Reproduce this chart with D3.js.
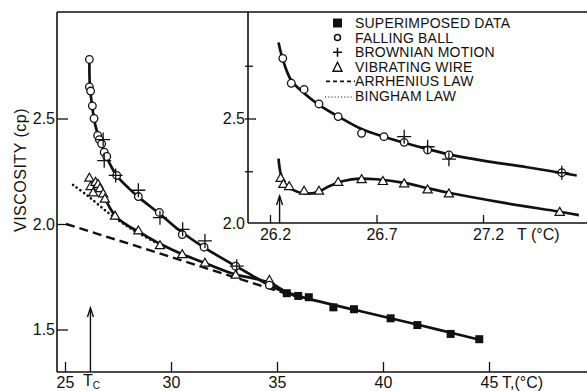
<!DOCTYPE html>
<html>
<head>
<meta charset="utf-8">
<script src="https://cdn.jsdelivr.net/npm/d3@7"></script>
<style>
  html, body { margin: 0; padding: 0; background: #fff; }
  svg { display: block; font-family: 'Liberation Sans', Arial, sans-serif; }
  text { fill: #111; }
</style>
</head>
<body>
<svg id="chart"></svg>
<script>
// main panel data, [T (degC), viscosity (cp)]
const fallingBall = [
  [26.15, 2.78], [26.15, 2.65], [26.21, 2.63], [26.29, 2.56], [26.37, 2.50],
  [26.54, 2.42], [26.62, 2.40], [26.73, 2.38], [26.85, 2.34], [26.97, 2.32],
  [27.44, 2.23], [28.46, 2.13], [29.45, 2.055], [30.53, 1.95], [31.56, 1.89],
  [33.05, 1.80], [34.64, 1.71]
];
const brownian = [
  [26.8, 2.40], [26.85, 2.30], [27.39, 2.23], [28.46, 2.16], [29.48, 2.03],
  [30.55, 1.975], [31.6, 1.92], [33.1, 1.80]
];
const vibratingWire = [
  [26.15, 2.22], [26.21, 2.18], [26.33, 2.15], [26.44, 2.20], [26.56, 2.19],
  [26.65, 2.17], [26.8, 2.145], [26.88, 2.12], [27.36, 2.04], [28.46, 1.97],
  [29.48, 1.90], [30.53, 1.857], [31.6, 1.817], [33.05, 1.76], [34.64, 1.735]
];
const superimposed = [
  [35.46, 1.672], [36.0, 1.659], [36.5, 1.653], [37.66, 1.605], [38.63, 1.596],
  [40.36, 1.553], [41.62, 1.521], [43.19, 1.479], [44.54, 1.454]
];
// fitted curves
const fallingCurve = [
  [26.15, 2.78], [26.17, 2.66], [26.24, 2.59], [26.32, 2.53], [26.45, 2.46],
  [26.65, 2.395], [26.95, 2.32], [27.4, 2.235], [28.0, 2.17], [28.5, 2.125],
  [29.5, 2.045], [30.5, 1.962], [31.5, 1.893], [32.5, 1.832], [33.5, 1.775],
  [34.6, 1.712], [35.5, 1.672], [36.5, 1.645], [38.6, 1.595], [40.4, 1.552],
  [42.5, 1.502], [44.6, 1.45]
];
const vibratingCurve = [
  [26.65, 2.175], [26.85, 2.13], [27.1, 2.08], [27.4, 2.035], [28.0, 1.99],
  [28.5, 1.962], [29.5, 1.905], [30.5, 1.858], [31.6, 1.815], [33.0, 1.762],
  [34.0, 1.74], [34.7, 1.72], [35.5, 1.675], [36.2, 1.655]
];
const arrhenius = [[25.05, 2.0], [30, 1.844], [35, 1.683], [36, 1.655]];
const bingham = [[25.38, 2.185], [26.08, 2.133], [27.12, 2.047], [28.21, 1.972], [29.34, 1.91]];

// inset data
const insetFalling = [
  [26.26, 2.785], [26.30, 2.667], [26.36, 2.638], [26.43, 2.569], [26.52, 2.509],
  [26.63, 2.43], [26.735, 2.414], [26.83, 2.387], [26.94, 2.351], [27.04, 2.327],
  [27.57, 2.243]
];
const insetBrownian = [[26.83, 2.414], [26.94, 2.366], [27.04, 2.307], [27.57, 2.243]];
const insetVibrating = [
  [26.25, 2.219], [26.263, 2.19], [26.29, 2.18], [26.36, 2.158], [26.43, 2.158],
  [26.52, 2.20], [26.63, 2.213], [26.73, 2.204], [26.83, 2.193], [26.94, 2.164],
  [27.04, 2.145], [27.56, 2.058]
];
const insetFallingCurve = [
  [26.24, 2.86], [26.26, 2.78], [26.30, 2.68], [26.36, 2.62], [26.43, 2.565],
  [26.52, 2.51], [26.63, 2.45], [26.73, 2.415], [26.83, 2.385], [26.94, 2.355],
  [27.04, 2.33], [27.2, 2.30], [27.4, 2.27], [27.64, 2.23]
];
const insetVibratingCurve = [
  [26.24, 2.31], [26.25, 2.24], [26.27, 2.19], [26.30, 2.165], [26.36, 2.145],
  [26.42, 2.15], [26.48, 2.18], [26.55, 2.205], [26.62, 2.215], [26.70, 2.212],
  [26.83, 2.195], [26.94, 2.17], [27.04, 2.148], [27.3, 2.10], [27.56, 2.058],
  [27.65, 2.042]
];

const xTicks = [25, 30, 35, 40, 45];
const yTicks = [1.5, 2.0, 2.5];
const insetXTicks = [26.2, 26.7, 27.2];
const insetYTicks = [2.25, 2.5, 2.75];
const Tc = 26.2;
const legendItems = [
  { label: 'SUPERIMPOSED DATA', mark: 'square' },
  { label: 'FALLING BALL', mark: 'circle' },
  { label: 'BROWNIAN MOTION', mark: 'plus' },
  { label: 'VIBRATING WIRE', mark: 'triangle' },
  { label: 'ARRHENIUS LAW', mark: 'dash' },
  { label: 'BINGHAM LAW', mark: 'dot' }
];

const width = 587, height = 391;
const svg = d3.select('#chart').attr('width', width).attr('height', height);
svg.append('rect').attr('width', width).attr('height', height).attr('fill', '#fff');

const plotLeft = 57, plotTop = 12, plotBottom = 372;
const insetLeft = 248, insetBottom = 223;

const x = d3.scaleLinear().domain([25, 45]).range([65, 489]);
const y = d3.scaleLinear().domain([1.5, 2.5]).range([329.5, 118.5]);
const xi = d3.scaleLinear().domain([26.2, 27.2]).range([270, 483]);

// frame lines
const frame = svg.append('g').attr('stroke', '#111').attr('stroke-width', 1.6);
frame.append('line').attr('x1', plotLeft).attr('x2', width).attr('y1', plotTop).attr('y2', plotTop);
frame.append('line').attr('x1', plotLeft).attr('x2', plotLeft).attr('y1', plotTop).attr('y2', plotBottom);
frame.append('line').attr('x1', plotLeft).attr('x2', width).attr('y1', plotBottom).attr('y2', plotBottom);
frame.append('line').attr('x1', insetLeft).attr('x2', insetLeft).attr('y1', plotTop).attr('y2', insetBottom);
frame.append('line').attr('x1', insetLeft).attr('x2', width).attr('y1', insetBottom).attr('y2', insetBottom);

function styleAxis(g) {
  g.select('.domain').remove();
  g.selectAll('line').attr('stroke', '#111').attr('stroke-width', 1.3);
  g.selectAll('text').attr('font-size', 16).attr('fill', '#111').attr('font-family', "'Liberation Sans', Arial, sans-serif");
}

// main axes
svg.append('g')
  .attr('transform', `translate(0,${plotBottom})`)
  .call(d3.axisBottom(x).tickValues(xTicks).tickSize(-10).tickPadding(5).tickFormat(d3.format('d')))
  .call(styleAxis);

svg.append('g')
  .attr('transform', `translate(${plotLeft},0)`)
  .call(d3.axisLeft(y).tickValues(yTicks).tickSize(-11).tickPadding(2).tickFormat(d3.format('.1f')))
  .call(styleAxis);

// inset axes
svg.append('g')
  .attr('transform', `translate(0,${insetBottom})`)
  .call(d3.axisBottom(xi).tickValues(insetXTicks).tickSize(-8).tickPadding(6).tickFormat(d3.format('.1f')))
  .call(styleAxis)
  .selectAll('text').attr('dx', 5);

svg.append('g')
  .attr('transform', `translate(${insetLeft},0)`)
  .call(d3.axisLeft(y).tickValues(insetYTicks).tickSize(0).tickPadding(3)
    .tickFormat(d => d === 2.5 ? '2.5' : ''))
  .call(styleAxis)
  .call(g => g.selectAll('.tick line')
    .attr('x1', -3).attr('x2', d => d === 2.5 ? 8 : 5));

svg.append('text').attr('x', insetLeft - 3).attr('y', y(2.0)).attr('dy', '0.32em')
  .attr('text-anchor', 'end').attr('font-size', 16).text('2.0');

// axis titles
svg.append('text')
  .attr('transform', `translate(26,170) rotate(-90)`)
  .attr('text-anchor', 'middle').attr('font-size', 16).attr('letter-spacing', 0.5)
  .text('VISCOSITY (cp)');
svg.append('text').attr('x', 502).attr('y', 388).attr('font-size', 16).text('T,(°C)');
svg.append('text').attr('x', 517).attr('y', 240).attr('font-size', 16).text('T (°C)');

const tcLabel = svg.append('text').attr('x', 83).attr('y', 386).attr('font-size', 16);
tcLabel.append('tspan').text('T');
tcLabel.append('tspan').attr('font-size', 10).attr('dy', 2.5).text('C');

// Tc arrows
function arrow(px, y0, y1) {
  const g = svg.append('g').attr('stroke', '#111').attr('stroke-width', 1.4).attr('fill', 'none');
  g.append('line').attr('x1', px).attr('x2', px).attr('y1', y0).attr('y2', y1);
  g.append('path').attr('d', `M${px - 3},${y1 + 9}L${px},${y1}L${px + 3},${y1 + 9}`);
}
arrow(x(Tc), plotBottom, 308);
arrow(xi(Tc + 0.045), insetBottom, 196);

// curves
function drawCurve(data, xs, opts = {}) {
  const line = d3.line().x(d => xs(d[0])).y(d => y(d[1])).curve(opts.curve || d3.curveCatmullRom.alpha(0.5));
  svg.append('path')
    .datum(data)
    .attr('d', line)
    .attr('fill', 'none')
    .attr('stroke', '#111')
    .attr('stroke-width', opts.width || 2.7)
    .attr('stroke-dasharray', opts.dash || null)
    .attr('stroke-linecap', opts.cap || 'butt');
}

drawCurve(arrhenius, x, { curve: d3.curveLinear, width: 2.4, dash: '9,5' });
drawCurve(bingham, x, { width: 2.6, dash: '0.1,4.4', cap: 'round' });
drawCurve(fallingCurve, x);
drawCurve(vibratingCurve, x);
drawCurve(insetFallingCurve, xi);
drawCurve(insetVibratingCurve, xi);

// markers
const trianglePath = s => `M0,${-s}L${s * 1.05},${s * 0.8}L${-s * 1.05},${s * 0.8}Z`;

function drawMarks(data, xs, mark) {
  const g = svg.append('g');
  const sel = g.selectAll('g').data(data).join('g')
    .attr('transform', d => `translate(${xs(d[0])},${y(d[1])})`);
  if (mark === 'circle') {
    sel.append('circle').attr('r', 3.8).attr('fill', '#fff').attr('stroke', '#111').attr('stroke-width', 1.3);
  } else if (mark === 'plus') {
    sel.append('path').attr('d', 'M-7,0H7M0,-7V7').attr('stroke', '#111').attr('stroke-width', 1.3);
  } else if (mark === 'triangle') {
    sel.append('path').attr('d', trianglePath(4.4)).attr('fill', '#fff').attr('stroke', '#111').attr('stroke-width', 1.2);
  } else if (mark === 'square') {
    sel.append('rect').attr('x', -4).attr('y', -4).attr('width', 8).attr('height', 8).attr('fill', '#111');
  }
}

drawMarks(superimposed, x, 'square');
drawMarks(vibratingWire, x, 'triangle');
drawMarks(fallingBall, x, 'circle');
drawMarks(brownian, x, 'plus');
drawMarks(insetVibrating, xi, 'triangle');
drawMarks(insetFalling, xi, 'circle');
drawMarks(insetBrownian, xi, 'plus');

// legend
const legend = svg.append('g').attr('transform', 'translate(0,28)');
legendItems.forEach((item, i) => {
  const row = legend.append('g').attr('transform', `translate(0,${i * 14.6})`);
  const cy = -5;
  if (item.mark === 'square') {
    row.append('rect').attr('x', 333).attr('y', cy - 4.5).attr('width', 9).attr('height', 9).attr('fill', '#111');
  } else if (item.mark === 'circle') {
    row.append('circle').attr('cx', 337.5).attr('cy', cy).attr('r', 3).attr('fill', 'none').attr('stroke', '#111').attr('stroke-width', 1.5);
  } else if (item.mark === 'plus') {
    row.append('path').attr('d', `M333,${cy}H342M337.5,${cy - 4.5}V${cy + 4.5}`).attr('stroke', '#111').attr('stroke-width', 1.6);
  } else if (item.mark === 'triangle') {
    row.append('path').attr('transform', `translate(337.5,${cy + 0.5})`).attr('d', 'M0,-5L4.5,4L-4.5,4Z')
      .attr('fill', 'none').attr('stroke', '#111').attr('stroke-width', 1.4);
  } else if (item.mark === 'dash') {
    row.append('line').attr('x1', 326).attr('x2', 355).attr('y1', cy).attr('y2', cy)
      .attr('stroke', '#111').attr('stroke-width', 1.6).attr('stroke-dasharray', '4,3');
  } else if (item.mark === 'dot') {
    row.append('line').attr('x1', 325).attr('x2', 354).attr('y1', cy + 1).attr('y2', cy + 1)
      .attr('stroke', '#111').attr('stroke-width', 1.2).attr('stroke-dasharray', '1,2.2');
  }
  row.append('text').attr('x', 355).attr('y', 0)
    .attr('font-size', 14).attr('letter-spacing', 0.2).text(item.label);
});
</script>
</body>
</html>
